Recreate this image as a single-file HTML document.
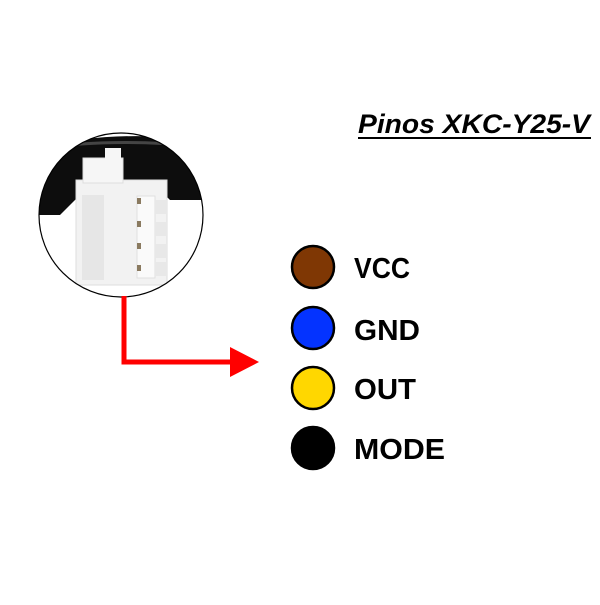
<!DOCTYPE html>
<html><head><style>html,body{margin:0;padding:0;background:#fff}</style></head>
<body>
<svg width="600" height="600" viewBox="0 0 600 600" xmlns="http://www.w3.org/2000/svg" font-family="Liberation Sans, sans-serif">
<rect width="600" height="600" fill="#fff"/>
<defs><clipPath id="c"><circle cx="121" cy="215" r="82"/></clipPath></defs>
<g clip-path="url(#c)">
  <rect x="30" y="120" width="200" height="200" fill="#fff"/>
  <path d="M30 150 Q120 125 230 145 L230 200 L170 200 L160 190 L80 195 L60 215 L30 215 Z" fill="#0d0d0d"/>
  <path d="M30 150 Q120 135 230 150" stroke="#444" stroke-width="3" fill="none"/>
  <!-- connector -->
  <rect x="76" y="180" width="91" height="105" fill="#f2f2f2" stroke="#ddd"/>
  <rect x="83" y="158" width="40" height="25" fill="#f6f6f6" stroke="#ddd"/>
  <rect x="105" y="148" width="16" height="12" fill="#f6f6f6"/>
  <rect x="82" y="195" width="22" height="85" fill="#e6e6e6"/>
  <rect x="137" y="196" width="18" height="82" fill="#fafafa" stroke="#e0e0e0"/>
  <rect x="155" y="200" width="12" height="14" fill="#e8e8e8"/>
  <rect x="155" y="222" width="12" height="14" fill="#e8e8e8"/>
  <rect x="155" y="244" width="12" height="14" fill="#e8e8e8"/>
  <rect x="155" y="262" width="12" height="14" fill="#e8e8e8"/>
  <rect x="137" y="198" width="4" height="6" fill="#8a7a60"/>
  <rect x="137" y="221" width="4" height="6" fill="#8a7a60"/>
  <rect x="137" y="243" width="4" height="6" fill="#8a7a60"/>
  <rect x="137" y="265" width="4" height="6" fill="#8a7a60"/>
</g>
<circle cx="121" cy="215" r="82" fill="none" stroke="#000" stroke-width="1.2"/>
<!-- red arrow -->
<polyline points="124,296 124,362 232,362" fill="none" stroke="#f00" stroke-width="5"/>
<polygon points="230,347 259,362 230,377" fill="#f00"/>
<!-- title -->
<text x="358" y="133" font-size="27" font-weight="bold" font-style="italic" textLength="232" lengthAdjust="spacingAndGlyphs">Pinos XKC-Y25-V</text>
<line x1="358" y1="138" x2="591" y2="138" stroke="#000" stroke-width="2"/>
<!-- pins -->
<circle cx="313" cy="267" r="21" fill="#7f3704" stroke="#000" stroke-width="2.5"/>
<circle cx="313" cy="328" r="21" fill="#0433ff" stroke="#000" stroke-width="2.5"/>
<circle cx="313" cy="388" r="21" fill="#ffd700" stroke="#000" stroke-width="2.5"/>
<circle cx="313" cy="448" r="21" fill="#000" stroke="#000" stroke-width="2.5"/>
<g font-size="29" font-weight="bold" fill="#000">
<text x="354" y="278" textLength="56" lengthAdjust="spacingAndGlyphs">VCC</text>
<text x="354" y="340" textLength="66" lengthAdjust="spacingAndGlyphs">GND</text>
<text x="354" y="399" textLength="62" lengthAdjust="spacingAndGlyphs">OUT</text>
<text x="354" y="459" textLength="91" lengthAdjust="spacingAndGlyphs">MODE</text>
</g>
</svg>
</body></html>
